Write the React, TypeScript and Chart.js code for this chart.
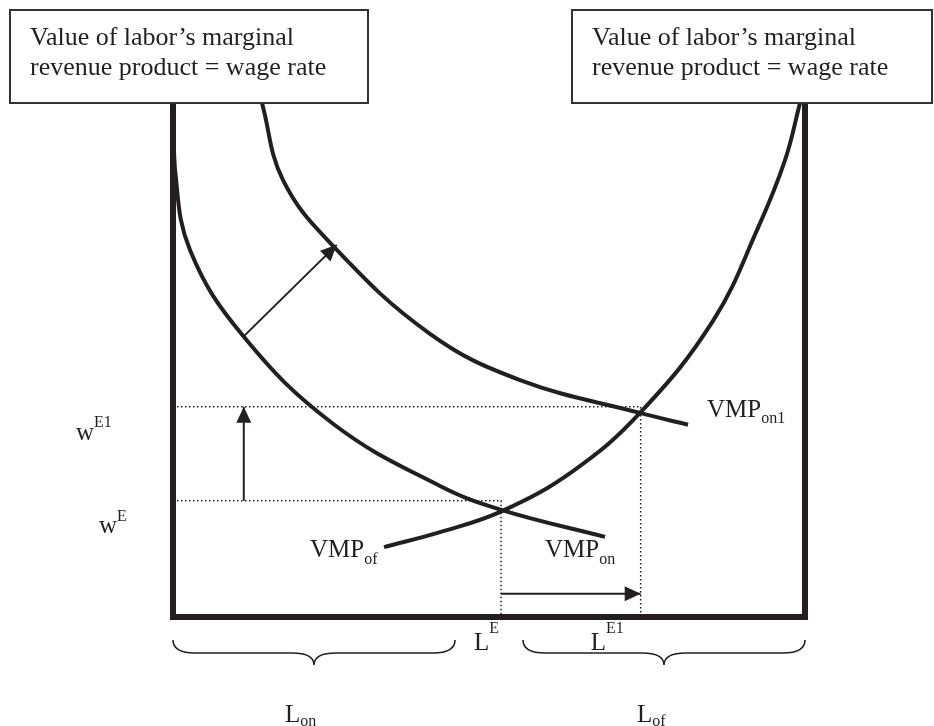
import React, { useEffect, useRef } from "react";
import { Chart, registerables } from "chart.js";

Chart.register(...registerables);

const INK = "#231f20";
const SERIF = "'Liberation Serif', 'Times New Roman', serif";

// Units: labor on x (0..100 across the box), value / wage on y (0..100)
const axisFrame = [
  { x: 0, y: 100 },
  { x: 0, y: 0 },
  { x: 100, y: 0 },
  { x: 100, y: 100 },
];

const vmpOn = [
  { x: 0, y: 100 },
  { x: 0.32, y: 87.0 },
  { x: 2.69, y: 71.4 },
  { x: 11.08, y: 54.7 },
  { x: 25.32, y: 37.6 },
  { x: 42.25, y: 25.5 },
  { x: 52.06, y: 20.8 },
  { x: 68.35, y: 15.6 },
];

const vmpOn1 = [
  { x: 14.08, y: 100 },
  { x: 17.41, y: 85.0 },
  { x: 25.32, y: 72.2 },
  { x: 40.66, y: 55.1 },
  { x: 54.91, y: 46.1 },
  { x: 73.89, y: 39.7 },
  { x: 81.49, y: 37.4 },
];

const vmpOf = [
  { x: 33.39, y: 13.6 },
  { x: 42.25, y: 16.5 },
  { x: 52.06, y: 20.6 },
  { x: 63.29, y: 28.4 },
  { x: 73.89, y: 39.7 },
  { x: 85.44, y: 57.6 },
  { x: 92.56, y: 75.7 },
  { x: 96.84, y: 88.9 },
  { x: 99.21, y: 100 },
];

const wageE = 22.6;
const wageE1 = 40.9;
const laborE = 51.9;
const laborE1 = 74.0;

const shiftArrow = [
  { x: 11.1, y: 54.5 },
  { x: 25.9, y: 72.4 },
];
const wageArrowX = 11.2;
const laborArrowY = 4.5;

const boxText = ["Value of labor\u2019s marginal", "revenue product = wage rate"];

function drawScript(
  ctx: CanvasRenderingContext2D,
  base: string,
  script: string,
  x: number,
  y: number,
  dy: number,
  size = 25,
  scriptSize = 16
) {
  ctx.font = `${size}px ${SERIF}`;
  ctx.fillText(base, x, y);
  const w = ctx.measureText(base).width;
  ctx.font = `${scriptSize}px ${SERIF}`;
  ctx.fillText(script, x + w, y + dy);
}

function drawBrace(ctx: CanvasRenderingContext2D, x0: number, x1: number, yTop: number) {
  const yMid = yTop + 13;
  const yTip = yTop + 25;
  const xm = (x0 + x1) / 2;
  const r = 22;
  ctx.beginPath();
  ctx.moveTo(x0, yTop);
  ctx.quadraticCurveTo(x0, yMid, x0 + r, yMid);
  ctx.lineTo(xm - r, yMid);
  ctx.quadraticCurveTo(xm, yMid, xm, yTip);
  ctx.quadraticCurveTo(xm, yMid, xm + r, yMid);
  ctx.lineTo(x1 - r, yMid);
  ctx.quadraticCurveTo(x1, yMid, x1, yTop);
  ctx.stroke();
}

const overlay = {
  id: "overlay",
  afterDatasetsDraw(chart: any) {
    const ctx: CanvasRenderingContext2D = chart.ctx;
    chart.data.datasets.forEach((ds: any, i: number) => {
      if (!ds.arrowHead) return;
      const pts = chart.getDatasetMeta(i).data;
      const a = pts[pts.length - 2];
      const b = pts[pts.length - 1];
      const ang = Math.atan2(b.y - a.y, b.x - a.x);
      const L = 16;
      const W = 7.5;
      const c = Math.cos(ang);
      const s = Math.sin(ang);
      ctx.save();
      ctx.fillStyle = INK;
      ctx.beginPath();
      ctx.moveTo(b.x, b.y);
      ctx.lineTo(b.x - L * c + W * s, b.y - L * s - W * c);
      ctx.lineTo(b.x - L * c - W * s, b.y - L * s + W * c);
      ctx.closePath();
      ctx.fill();
      ctx.restore();
    });
  },
  afterDraw(chart: any) {
    const ctx: CanvasRenderingContext2D = chart.ctx;
    const xs = chart.scales.x;
    const ys = chart.scales.y;
    const top = ys.getPixelForValue(100);
    const bottom = ys.getPixelForValue(0);
    const left = xs.getPixelForValue(0);
    const right = xs.getPixelForValue(100);
    ctx.save();

    // Text boxes
    const boxes = [
      { x: 10, w: 358 },
      { x: 572, w: 360 },
    ];
    boxes.forEach((b) => {
      ctx.fillStyle = "#ffffff";
      ctx.fillRect(b.x, 10, b.w, top - 10);
      ctx.strokeStyle = "#333333";
      ctx.lineWidth = 2;
      ctx.strokeRect(b.x, 10, b.w, top - 10);
      ctx.fillStyle = INK;
      ctx.font = `26px ${SERIF}`;
      ctx.textBaseline = "alphabetic";
      ctx.fillText(boxText[0], b.x + 20, 45);
      ctx.fillText(boxText[1], b.x + 20, 75);
    });

    ctx.fillStyle = INK;
    // Wage labels
    const yE1 = ys.getPixelForValue(wageE1);
    const yE = ys.getPixelForValue(wageE);
    drawScript(ctx, "w", "E1", 76, yE1 + 33, -13);
    drawScript(ctx, "w", "E", 99, yE + 32, -12);

    // Curve labels
    drawScript(ctx, "VMP", "of", 310, 557, 7);
    drawScript(ctx, "VMP", "on", 545, 557, 7);
    drawScript(ctx, "VMP", "on1", 707, 417, 6);

    // Labor labels
    const xE = xs.getPixelForValue(laborE);
    const xE1 = xs.getPixelForValue(laborE1);
    drawScript(ctx, "L", "E", xE - 27, bottom + 33, -17);
    drawScript(ctx, "L", "E1", xE1 - 50, bottom + 33, -17);
    drawScript(ctx, "L", "on", 285, 722, 4);
    drawScript(ctx, "L", "of", 637, 722, 4);

    // Braces
    ctx.strokeStyle = INK;
    ctx.lineWidth = 1.6;
    drawBrace(ctx, left, 455, bottom + 23);
    drawBrace(ctx, 523, right, bottom + 23);

    ctx.restore();
  },
};

export default function App() {
  const ref = useRef<HTMLCanvasElement | null>(null);

  useEffect(() => {
    if (!ref.current) return;
    const curve = (data: any[]) => ({
      data,
      borderColor: INK,
      borderWidth: 4,
      tension: 0.4,
      pointRadius: 0,
      fill: false,
      clip: false as any,
    });
    const dotted = (data: any[]) => ({
      data,
      borderColor: INK,
      borderWidth: 1.5,
      borderDash: [1.5, 2.5],
      tension: 0,
      pointRadius: 0,
      fill: false,
      clip: false as any,
    });
    const arrow = (data: any[]) => ({
      data,
      borderColor: INK,
      borderWidth: 2,
      tension: 0,
      pointRadius: 0,
      fill: false,
      arrowHead: true,
      clip: false as any,
    });

    const chart = new Chart(ref.current, {
      type: "scatter",
      data: {
        datasets: [
          dotted([
            { x: 0, y: wageE1 },
            { x: laborE1, y: wageE1 },
            { x: laborE1, y: 0 },
          ]),
          dotted([
            { x: 0, y: wageE },
            { x: laborE, y: wageE },
            { x: laborE, y: 0 },
          ]),
          curve(vmpOn),
          curve(vmpOn1),
          curve(vmpOf),
          arrow(shiftArrow),
          arrow([
            { x: wageArrowX, y: wageE },
            { x: wageArrowX, y: wageE1 },
          ]),
          arrow([
            { x: laborE, y: laborArrowY },
            { x: laborE1, y: laborArrowY },
          ]),
          {
            data: axisFrame,
            borderColor: INK,
            borderWidth: 6,
            tension: 0,
            pointRadius: 0,
            fill: false,
            borderJoinStyle: "miter",
            borderCapStyle: "square",
            clip: false as any,
          } as any,
        ] as any,
      },
      options: {
        responsive: false,
        animation: false,
        showLine: true,
        layout: { padding: { left: 173, right: 129, top: 103, bottom: 109 } },
        scales: {
          x: { type: "linear", min: 0, max: 100, display: false },
          y: { type: "linear", min: 0, max: 100, display: false },
        },
        plugins: {
          legend: { display: false },
          title: { display: false },
          tooltip: { enabled: false },
        },
        events: [],
      } as any,
      plugins: [overlay],
    });
    return () => chart.destroy();
  }, []);

  return (
    <div
      style={{
        position: "absolute",
        left: 0,
        top: 0,
        width: 934,
        height: 726,
        background: "#ffffff",
      }}
    >
      <canvas ref={ref} width={934} height={726} style={{ display: "block" }} />
    </div>
  );
}
